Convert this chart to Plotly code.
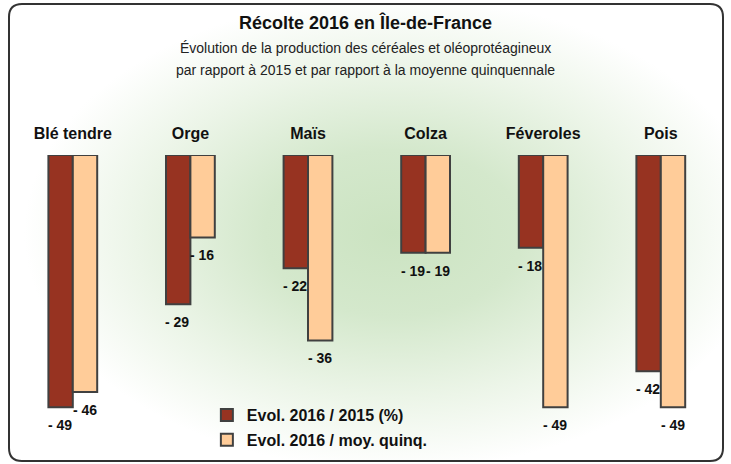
import base64
import plotly.graph_objects as go

categories = ["Blé tendre", "Orge", "Maïs", "Colza", "Féveroles", "Pois"]
evol_2015 = [-49, -29, -22, -19, -18, -42]
evol_quinq = [-46, -16, -36, -19, -49, -49]
series_names = ["Evol. 2016 / 2015 (%)", "Evol. 2016 / moy. quinq."]
title_text = "Récolte 2016 en Île-de-France"
subtitle_lines = ["Évolution de la production des céréales et oléoprotéagineux",
                  "par rapport à 2015 et par rapport à la moyenne quinquennale"]

W, H = 731, 464
FONT = "Liberation Sans, Arial, sans-serif"
DARK = "#973321"
LIGHT = "#FFCC99"
EDGE = "#404040"

def px_x(p):
    return p / W

def px_y(p):
    return 1 - p / H

fig = go.Figure()
for name, vals, col, grp in [(series_names[0], evol_2015, DARK, "a"),
                             (series_names[1], evol_quinq, LIGHT, "b")]:
    fig.add_trace(go.Bar(
        x=categories, y=vals, name=f"<b>{name}</b>", legendgroup=grp,
        marker=dict(color=col, line=dict(color=EDGE, width=2)),
        hoverinfo="x+y",
    ))

# data labels below each bar end
for vals, shift in [(evol_2015, -13), (evol_quinq, 12)]:
    for c, v in zip(categories, vals):
        fig.add_annotation(x=c, y=v, xref="x", yref="y", text=f"<b>- {abs(v)}</b>",
                           showarrow=False, xshift=shift, yshift=-8, yanchor="top",
                           font=dict(family=FONT, size=14, color="#111"))

# background gradient
svg = f'''<svg xmlns="http://www.w3.org/2000/svg" width="{W}" height="{H}">
<defs><radialGradient id="g" cx="0.54" cy="0.5" r="0.52">
<stop offset="0" stop-color="#cbe3c1"/>
<stop offset="0.35" stop-color="#d4e8cc"/>
<stop offset="0.7" stop-color="#ecf5e8"/>
<stop offset="1" stop-color="#ffffff"/>
</radialGradient></defs>
<rect width="{W}" height="{H}" fill="#ffffff"/>
<rect x="10" y="5" width="{W-20}" height="{H-8}" fill="url(#g)"/>
</svg>'''
src = "data:image/svg+xml;base64," + base64.b64encode(svg.encode()).decode()
fig.add_layout_image(source=src, xref="paper", yref="paper", x=0, y=1,
                     sizex=1, sizey=1, xanchor="left", yanchor="top",
                     sizing="stretch", layer="below")

# rounded frame
x0, x1, y0, y1, r = 9, 723, 4, 461, 13
path = (f"M {px_x(x0+r)},{px_y(y0)} L {px_x(x1-r)},{px_y(y0)} "
        f"Q {px_x(x1)},{px_y(y0)} {px_x(x1)},{px_y(y0+r)} "
        f"L {px_x(x1)},{px_y(y1-r)} Q {px_x(x1)},{px_y(y1)} {px_x(x1-r)},{px_y(y1)} "
        f"L {px_x(x0+r)},{px_y(y1)} Q {px_x(x0)},{px_y(y1)} {px_x(x0)},{px_y(y1-r)} "
        f"L {px_x(x0)},{px_y(y0+r)} Q {px_x(x0)},{px_y(y0)} {px_x(x0+r)},{px_y(y0)} Z")
fig.add_shape(type="path", path=path, xref="paper", yref="paper",
              line=dict(color="#333333", width=2), layer="above")

fig.add_annotation(x=0.5, y=px_y(22), xref="paper", yref="paper", text=f"<b>{title_text}</b>",
                   showarrow=False, font=dict(family=FONT, size=18, color="#111"), yanchor="middle")
for i, line in enumerate(subtitle_lines):
    fig.add_annotation(x=0.5, y=px_y(48 + 22 * i), xref="paper", yref="paper", text=line,
                       showarrow=False, font=dict(family=FONT, size=14, color="#222"), yanchor="middle")

plot_left, plot_w = 14, 705.6
fig.update_layout(
    width=W, height=H,
    margin=dict(l=0, r=0, t=0, b=0),
    paper_bgcolor="white", plot_bgcolor="rgba(0,0,0,0)",
    barmode="group", bargap=0.585, bargroupgap=0,
    font=dict(family=FONT, color="#111"),
    xaxis=dict(domain=[plot_left / W, (plot_left + plot_w) / W], side="top",
               showgrid=False, showline=False, zeroline=False, ticks="",
               tickfont=dict(family=FONT, size=16, color="#111"),
               ticklabelstandoff=12, fixedrange=True,
               tickvals=categories, ticktext=[f"<b>{c}</b>" for c in categories]),
    yaxis=dict(domain=[0, 1 - 155 / H], range=[-60, 0], visible=False, fixedrange=True),
    legend=dict(x=0.283, y=px_y(398), xanchor="left", yanchor="top",
                bgcolor="rgba(0,0,0,0)", traceorder="grouped", tracegroupgap=1,
                font=dict(family=FONT, size=16, color="#111"),
                itemclick=False, itemdoubleclick=False),
    showlegend=True,
)
fig.update_traces(cliponaxis=False)

fig.write_html("out.html", config={"displayModeBar": False},
               post_script="document.body.style.margin='0';document.body.style.padding='0';")
